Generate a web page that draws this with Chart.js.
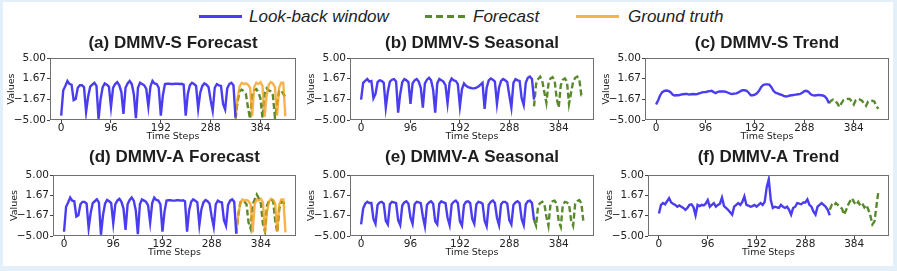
<!DOCTYPE html>
<html>
<head>
<meta charset="utf-8">
<script src="https://cdn.jsdelivr.net/npm/chart.js@4.4.1/dist/chart.umd.min.js"></script>
<style>
  body { margin: 0; }
  #fig { position: relative; width: 897px; height: 271px; background: #e4f0f9; overflow: hidden; }
  #inner { position: absolute; left: 3px; top: 2px; width: 890px; height: 264px; background: #fff; }
  canvas { position: absolute; }
  .lg { position: absolute; top: 6px; font: italic 17px "Liberation Sans"; color: #222; line-height: 21px; white-space: nowrap; }
</style>
</head>
<body>
<div id="fig">
  <div id="inner"></div>
</div>
<script>
// x ticks / y ticks
const xTicks = [0, 96, 192, 288, 384];
const yTicks = [-5, -5 / 3, 5 / 3, 5];
const STEP = 4;        // sampled every 4 time steps
const FC_START = 336;  // forecast begins after the look-back window

// look-back input (same for DMMV-S and DMMV-A), t = 0..336
const lookback = [
  -4.3, -0.2, 0.5, 1.3, 0.8, 0.7,
  -1.8, -1.6, 0.2, 0.6, 0.6, 0.3,
  -3.7, -1.2, 0.4, 0.7, 1.0, 0.5,
  -4.8, -1.6, 0.3, 0.9, 0.7, 0.4,
  -2.9, 0.2, 0.8, 1.1, 0.6, -0.5,
  -4.0, 0.2, 0.9, 1.3, 0.8, -0.8,
  -4.7, 0.2, 1.0, 0.8, 0.6, 0.0,
  -2.8, 0.4, 1.3, 0.9, 0.8, 0.2,
  -4.3, -1.0, 0.8, 0.85, 0.85, 0.8,
  0.8, 0.85, 0.85, 0.8, 0.85, 0.7,
  -4.3, -0.8, 0.6, 1.0, 0.8, 0.5,
  -3.2, -0.6, 0.5, 0.9, 0.7, 0.3,
  -1.8, -3.5, 0.2, 0.8, 0.6, 0.5,
  -2.4, -3.3, 0.1, 0.8, 1.0, 0.6,
  -4.6
];
// ground truth, t = 336..432
const groundTruth = [
  -4.7, -1.5, 0.4, 1.0, 0.8, 0.9, 0.7, 0.2,
  -4.4, 0.3, 1.0, 0.8, 1.1, 0.5,
  -4.5, -1.0, 0.7, 1.1, 0.9, 0.3,
  -4.3, 0.2, 1.0, 1.0, -4.4
];
// forecasts
const forecastS = [
  -4.8, -2.0, -0.3, -0.1, -0.4, -0.8,
  -3.0, -4.8, -1.0, -0.2, 0.0, -0.5,
  -1.5, -4.7, -0.8, 0.1, -0.2, -0.4,
  -1.0, -4.6, -2.5, -0.3, -0.2, -0.8, -1.3
];
const forecastA = [
  -4.6, -1.5, 0.5, 0.8, 0.6, 0.2,
  -2.8, -3.8, 0.2, 1.0, 1.8, 1.2,
  0.3, -3.0, -4.2, 0.0, 0.8, 1.0,
  0.7, -2.5, -4.4, -0.5, 0.6, 0.5, -0.3
];
// DMMV-S seasonal / trend
const seasonalS = [
  -1.7, 1.0, 1.3, 1.6, 1.2, 1.3,
  -1.5, -0.8, 1.1, 1.4, 1.3, 1.0,
  -3.0, -0.4, 1.2, 1.5, 1.6, 1.2,
  -3.8, -0.8, 1.1, 1.6, 1.4, 1.1,
  -2.4, 0.9, 1.4, 1.6, 1.2, 0.2,
  -3.0, 0.9, 1.5, 1.8, 1.4, -0.1,
  -3.8, 0.9, 1.6, 1.4, 1.2, 0.6,
  -2.3, 1.0, 1.7, 1.4, 1.3, 0.8,
  -2.8, 0.0, 0.9, 0.5, 0.3, 0.2,
  0.1, 0.1, 0.2, 0.4, 0.7, 1.0,
  -3.2, 0.2, 1.4, 1.7, 1.5, 1.2,
  -2.4, 0.2, 1.3, 1.6, 1.4, 1.1,
  -1.0, -3.0, 1.0, 1.6, 1.4, 1.3,
  -1.5, -2.6, 1.0, 1.8, 2.0, 1.6,
  -1.7
];
const seasonalSFc = [
  -2.8, 0.8, 1.6, 2.0, 1.3, -0.5,
  -2.2, 0.8, 1.7, 1.9, 1.4, -1.5,
  -3.0, 0.6, 1.5, 1.7, 1.2, -2.4,
  -0.6, 1.2, 1.8, 2.0, 1.5, -1.0, -1.0
];
const trendS = [
  -2.5, -1.8, -1.0, -0.5, -0.3, -0.25,
  -0.3, -0.5, -0.9, -1.05, -1.0, -1.0,
  -0.9, -0.85, -0.8, -0.8, -0.9, -0.85,
  -0.8, -0.85, -0.8, -0.7, -0.6, -0.5,
  -0.5, -0.4, -0.35, -0.3, -0.5, -0.65,
  -0.45, -0.4, -0.4, -0.4, -0.45, -0.6,
  -0.75, -0.8, -0.75, -0.7, -0.55, -0.35,
  -0.2, -0.2, -0.3, -0.6, -1.0, -1.0,
  -0.9, -0.7, -0.3, 0.3, 0.65, 0.75,
  0.75, 0.7, 0.3, -0.3, -0.6, -0.7,
  -0.85, -0.95, -1.1, -1.2, -1.15, -1.05,
  -1.0, -0.95, -0.9, -0.85, -0.8, -0.6,
  -0.35, -0.3, -0.45, -0.8, -1.0, -1.05,
  -1.0, -0.95, -1.0, -1.05, -1.2, -1.6,
  -2.3
];
const trendSFc = [
  -2.3, -1.9, -1.7, -1.9, -2.3, -2.9,
  -2.3, -1.8, -1.7, -1.6, -1.6, -2.0,
  -2.5, -1.8, -1.6, -1.7, -1.9, -2.3,
  -2.7, -2.0, -1.9, -1.9, -2.0, -2.8, -3.2
];
// DMMV-A seasonal / trend
const seasonalA = [
  -3.1, -0.5, 0.3, 0.6, 0.4, 0.4,
  -2.2, -3.0, 0.1, 0.5, 0.6, 0.3,
  -2.5, -3.1, 0.2, 0.6, 0.5, 0.4,
  -2.4, -3.2, 0.0, 0.5, 0.7, 0.3,
  -2.0, -3.0, 0.2, 0.6, 0.5, 0.4,
  -1.8, -3.4, 0.1, 0.5, 0.7, 0.3,
  -2.6, -3.1, 0.3, 0.7, 0.5, 0.4,
  -2.0, -3.2, 0.2, 0.6, 0.8, 0.4,
  -2.6, -3.3, 0.1, 0.6, 0.7, 0.4,
  -2.2, -3.0, 0.2, 0.6, 0.5, 0.3,
  -2.5, -3.4, 0.1, 0.6, 0.8, 0.4,
  -2.0, -3.2, 0.2, 0.6, 0.6, 0.3,
  -2.4, -3.1, 0.1, 0.5, 0.7, 0.4,
  -2.2, -3.2, 0.2, 0.7, 0.8, 0.4,
  -2.4
];
const seasonalAFc = [
  -2.4, -3.3, 0.0, 0.4, 0.6, 0.3,
  -1.8, -3.3, 0.2, 0.7, 0.8, 0.3,
  -2.6, -3.5, 0.1, 0.6, 0.5, 0.2,
  -2.4, -3.3, 0.3, 0.7, 0.9, 0.4, -2.7
];
const trendA = [
  -1.3, 0.1, 0.4, 0.2, 0.7, 1.2,
  0.5, 0.3, 0.1, -0.2, 0.0, -0.2,
  -0.4, -0.7, -0.4, 0.1, 0.2, -0.3,
  -1.6, 0.1, -0.1, 0.1, 0.0, 0.3,
  0.9, -0.2, 0.1, 0.4, -0.2, 0.1,
  0.3, 1.3, -0.1, -0.4, -0.7, -1.1,
  -1.5, -0.2, 0.1, 0.4, 0.1, 0.6,
  1.5, 0.1, 0.0, -0.2, -0.1, 0.1,
  -0.2, 0.1, 0.4, 0.1, 0.6, 3.0,
  4.3, 0.9, -0.4, -0.2, -0.3, -0.4,
  0.1, -0.2, -0.4, -0.2, -0.7, -1.5,
  -0.4, -0.2, 0.4, 0.3, 0.2, 0.5,
  0.5, 1.0, 0.1, -0.2, -1.0, -1.5,
  -0.2, 0.1, 0.4, 0.1, -0.2, -0.7,
  -1.6
];
const trendAFc = [
  -0.7, 0.1, -0.1, 0.4, 0.1, -0.3,
  -0.5, -1.5, -0.8, 0.1, 0.7, 1.2,
  0.5, 0.1, 0.6, 0.0, 0.3, -0.3,
  0.1, -0.7, -1.7, -3.1, -2.6, 0.0, 2.5
];

const BLUE = '#4a3df0';
const GREEN = '#5a8a2e';
const ORANGE = 'rgba(245,160,30,0.8)';
const FONT = 'DejaVu Sans';
const TITLE_FONT = 'Liberation Sans';
const AXIS_W = 50, PAD_R = 2, XAXIS_H = 24;

const fig = document.getElementById('fig');

// legend
const legendItems = [
  { label: 'Look-back window', color: BLUE, dash: '', x1: 199, x2: 242, tx: 249 },
  { label: 'Forecast', color: GREEN, dash: '7 4', x1: 425, x2: 466, tx: 473 },
  { label: 'Ground truth', color: ORANGE, dash: '', x1: 576, x2: 619, tx: 628 }
];
let svg = '<svg width="897" height="30" style="position:absolute;left:0;top:0">';
legendItems.forEach(it => {
  svg += `<line x1="${it.x1}" y1="16.5" x2="${it.x2}" y2="16.5" stroke="${it.color}" stroke-width="3" stroke-dasharray="${it.dash}"/>`;
});
svg += '</svg>';
fig.insertAdjacentHTML('beforeend', svg);
legendItems.forEach(it => {
  fig.insertAdjacentHTML('beforeend', `<span class="lg" style="left:${it.tx}px">${it.label}</span>`);
});

function pts(vals, start) {
  return vals.map((v, i) => ({ x: start + i * STEP, y: v }));
}

// frame around the plot area
const framePlugin = {
  id: 'frame',
  afterDatasetsDraw(chart) {
    const { ctx, chartArea: a } = chart;
    ctx.save();
    ctx.strokeStyle = '#707070';
    ctx.lineWidth = 1;
    ctx.strokeRect(Math.round(a.left) + 0.5, Math.round(a.top) + 0.5, Math.round(a.width) - 1, Math.round(a.height) - 1);
    ctx.restore();
  }
};

const row1 = { plotTop: 58, plotBottom: 120, titleGap: 25 };
const row2 = { plotTop: 175, plotBottom: 236, titleGap: 28.5 };

const panels = [
  { title: '(a) DMMV-S Forecast', row: row1, plotLeft: 50, plotRight: 296,
    series: [[lookback, 0, BLUE], [groundTruth, FC_START, ORANGE], [forecastS, FC_START, GREEN, true]] },
  { title: '(b) DMMV-S Seasonal', row: row1, plotLeft: 350, plotRight: 594,
    series: [[seasonalS, 0, BLUE], [seasonalSFc, FC_START, GREEN, true]] },
  { title: '(c) DMMV-S Trend', row: row1, plotLeft: 645, plotRight: 889,
    series: [[trendS, 0, BLUE], [trendSFc, FC_START, GREEN, true]] },
  { title: '(d) DMMV-A Forecast', row: row2, plotLeft: 53, plotRight: 296,
    series: [[lookback, 0, BLUE], [groundTruth, FC_START, ORANGE], [forecastA, FC_START, GREEN, true]] },
  { title: '(e) DMMV-A Seasonal', row: row2, plotLeft: 350, plotRight: 594,
    series: [[seasonalA, 0, BLUE], [seasonalAFc, FC_START, GREEN, true]] },
  { title: '(f) DMMV-A Trend', row: row2, plotLeft: 648, plotRight: 889,
    series: [[trendA, 0, BLUE], [trendAFc, FC_START, GREEN, true]] }
];

const tickFont = { family: FONT, size: 10.5 };
const labelFont = { family: FONT, size: 9.5 };

panels.forEach(p => {
  const cv = document.createElement('canvas');
  const left = p.plotLeft - AXIS_W;
  const width = p.plotRight - left + PAD_R;
  const top = Math.round(p.row.plotTop - p.row.titleGap);
  const titleGap = p.row.plotTop - top;
  const height = titleGap + (p.row.plotBottom - p.row.plotTop) + XAXIS_H;
  cv.width = width; cv.height = height;
  cv.style.left = left + 'px'; cv.style.top = top + 'px';
  fig.appendChild(cv);

  new Chart(cv, {
    type: 'line',
    data: {
      datasets: p.series.map(s => ({
        data: pts(s[0], s[1]),
        borderColor: s[2],
        borderWidth: 2.4,
        borderDash: s[3] ? [6, 3] : [],
        pointRadius: 0,
        tension: 0,
        fill: false
      }))
    },
    options: {
      responsive: false,
      animation: false,
      devicePixelRatio: 1,
      layout: { padding: { left: 0, right: PAD_R, top: 0, bottom: 0 } },
      plugins: {
        legend: { display: false },
        tooltip: { enabled: false },
        title: {
          display: true, text: p.title, fullSize: false, color: '#1e1e1e',
          font: { family: TITLE_FONT, size: 17, weight: 'bold' },
          padding: { top: 0, bottom: titleGap - 20.4 }
        }
      },
      scales: {
        x: {
          type: 'linear', min: -21.55, max: 452.55,
          afterBuildTicks: s => { s.ticks = xTicks.map(v => ({ value: v })); },
          afterFit: s => { s.height = XAXIS_H; },
          grid: { drawOnChartArea: false, drawTicks: true, tickLength: 3, color: '#444' },
          border: { display: false },
          ticks: { padding: -1, color: '#222', font: tickFont, maxRotation: 0, autoSkip: false, callback: v => String(v) },
          title: { display: true, text: 'Time Steps', color: '#222', font: labelFont, padding: { top: 0, bottom: 1.5 } }
        },
        y: {
          type: 'linear', min: -5, max: 5,
          afterBuildTicks: s => { s.ticks = yTicks.map(v => ({ value: v })); },
          afterFit: s => { s.width = AXIS_W; },
          grid: { drawOnChartArea: false, drawTicks: true, tickLength: 3, color: '#444' },
          border: { display: false },
          ticks: { padding: 1, color: '#222', font: tickFont, callback: v => v.toFixed(2).replace('-', '\u2212') },
          title: { display: true, text: 'Values', color: '#222', font: labelFont, padding: { top: 6.3, bottom: 0 } }
        }
      }
    },
    plugins: [framePlugin]
  });
});
</script>
</body>
</html>
